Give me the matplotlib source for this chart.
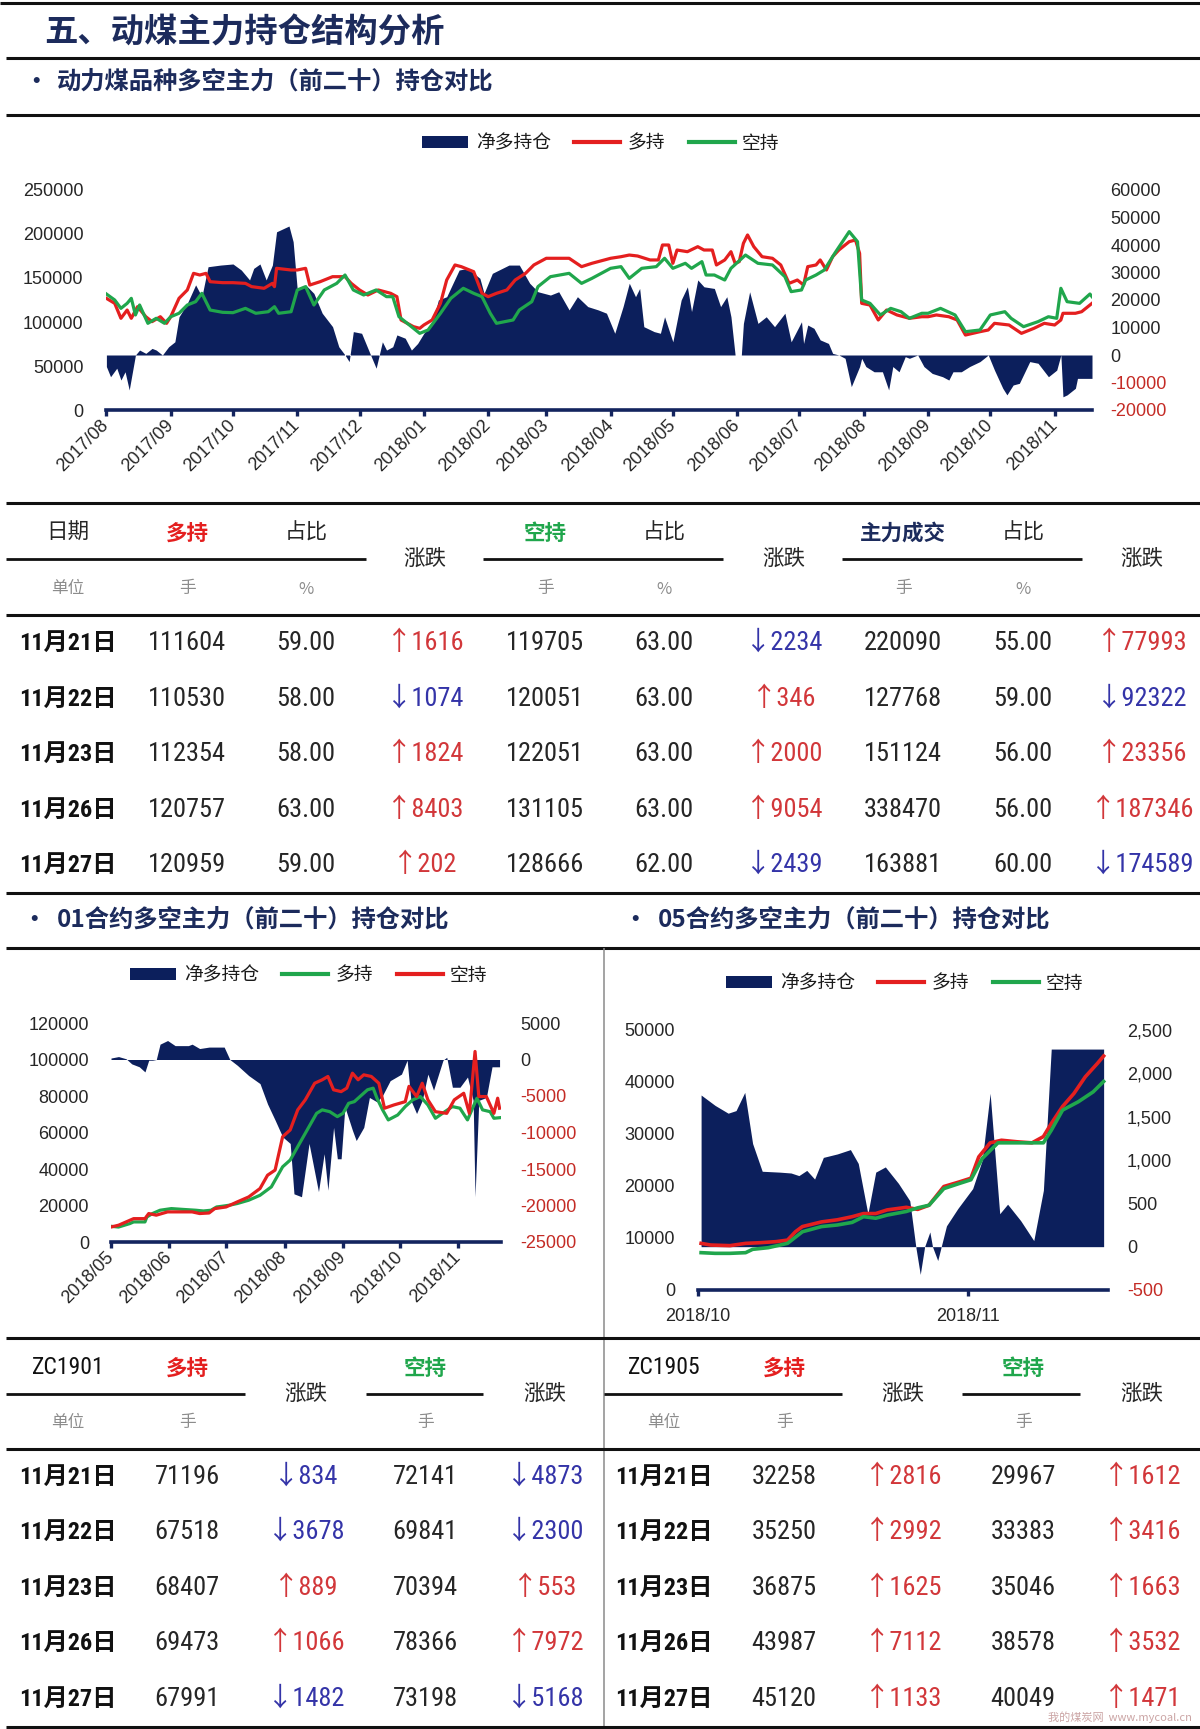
import numpy as np
import pandas as pd
import matplotlib
matplotlib.use('Agg')
import matplotlib.pyplot as plt
import matplotlib.dates as mdates
from matplotlib import font_manager
from matplotlib.font_manager import FontProperties
from matplotlib.lines import Line2D
from matplotlib.patches import Patch

# ====================== DATA ======================
TITLE = '五、动煤主力持仓结构分析'
SUB_MAIN = '动力煤品种多空主力（前二十）持仓对比'
SUB_01 = '01合约多空主力（前二十）持仓对比'
SUB_05 = '05合约多空主力（前二十）持仓对比'
LEGEND_LABELS = ['净多持仓', '多持', '空持']

# main chart: (days since start, value)
MAIN_START = '2017-08-01'
MAIN_END_DAY = 475
MAIN_LONG = [(0,126900),(4,121200),(7,104200),(10,113600),(12,104200),(15,117400),(19,106000),(22,100400),(26,106000),(29,98500),(31,106000),(35,126900),(39,136400),(42,155300),(45,153400),(48,155300),(50,145800),(56,144700),(61,144700),(67,143900),(70,140200),(76,138300),(80,143900),(81,140200),(82,161000),(89,159100),(92,159100),(96,161000),(98,142000),(103,145800),(109,151500),(115,151500),(118,143900),(122,136400),(126,130700),(131,136400),(137,132600),(140,128800),(142,102300),(148,94700),(151,92800),(153,96600),(157,102300),(161,121200),(164,147700),(168,164800),(171,162900),(177,157200),(181,132600),(184,128800),(188,132600),(193,136400),(197,147700),(202,155300),(206,164800),(212,172400),(216,172400),(223,172400),(229,162900),(234,166700),(243,172400),(248,174200),(252,176100),(256,175000),(262,170500),(266,170500),(268,187500),(271,187500),(273,166700),(275,181800),(280,179900),(285,185600),(288,181800),(292,181800),(294,164800),(298,170500),(301,179900),(303,166700),(305,168600),(307,189400),(309,198900),(312,185600),(316,174200),(321,172400),(325,164800),(329,143900),(333,147700),(336,142000),(338,162900),(342,164800),(344,170500),(347,159100),(350,174200),(353,181800),(358,191300),(361,193200),(363,178000),(364,121200),(368,119300),(372,102300),(376,113600),(381,108000),(387,104200),(393,106000),(396,106000),(400,108000),(406,106000),(410,102300),(414,85200),(421,89000),(425,90900),(428,98500),(435,96600),(441,87100),(447,92800),(452,98500),(457,96600),(460,102300),(461,109900),(467,109900),(470,111700),(475,121200)]
MAIN_SHORT = [(0,131800),(4,125000),(7,115500),(10,121200),(12,126900),(14,108000),(16,119300),(20,98500),(24,104200),(28,98500),(31,106000),(35,109900),(39,119300),(43,123100),(46,132600),(50,113600),(56,111000),(61,110600),(67,115500),(72,109900),(78,111700),(81,117400),(83,109900),(89,111700),(92,136400),(96,140200),(100,119300),(105,136400),(111,143900),(115,153400),(119,136400),(124,130700),(130,136400),(135,128800),(138,128800),(141,106000),(146,96600),(151,87100),(155,90900),(161,109900),(166,126900),(172,138300),(177,132600),(181,128800),(185,109900),(188,98500),(196,102300),(199,113600),(205,123100),(208,140200),(214,151500),(223,155300),(229,143900),(234,149600),(243,161000),(248,162900),(252,149600),(258,161000),(265,162900),(269,172400),(273,161000),(279,166700),(282,161000),(287,168600),(289,153400),(293,153400),(298,147700),(301,161000),(308,176100),(314,166700),(321,164800),(327,151500),(330,134500),(335,136400),(337,147700),(342,153400),(346,159100),(351,178000),(358,202700),(362,191300),(364,125000),(368,121200),(373,108000),(378,115500),(383,111700),(387,104200),(393,109900),(396,109900),(402,115500),(409,108000),(414,89000),(421,90900),(426,108000),(433,111700),(436,104200),(442,94700),(449,100400),(454,106000),(458,104200),(460,138300),(463,123100),(469,121200),(474,131800),(475,128800)]
MAIN_NET = [(0,-4200),(2,-7900),(5,-4800),(7,-9100),(9,-6100),(11,-12700),(14,0),(16,1800),(19,600),(22,2400),(24,1800),(27,0),(30,3000),(33,4800),(35,13900),(39,18800),(43,25500),(46,21200),(49,32100),(55,32700),(61,33100),(65,30900),(69,27300),(71,31500),(74,33100),(77,27300),(80,32700),(82,44800),(88,46900),(90,41200),(92,23600),(96,25500),(100,22400),(104,15200),(109,10300),(112,3000),(115,0),(117,-2400),(119,8500),(123,7900),(127,600),(130,-4800),(133,4800),(135,1800),(138,3000),(140,7300),(144,6100),(147,1800),(150,4200),(153,7900),(157,11500),(160,20000),(164,21200),(170,30900),(174,31500),(180,27900),(182,22400),(186,29700),(194,32700),(199,32700),(204,26100),(208,23000),(214,21800),(218,23000),(223,16400),(227,21200),(232,17600),(237,16400),(241,15200),(245,7900),(249,17600),(252,26100),(255,21200),(257,24200),(259,10300),(264,8500),(267,7900),(269,13900),(273,4800),(277,20000),(280,24800),(282,15800),(285,27300),(288,24800),(293,24200),(296,17600),(299,21200),(301,13900),(303,0),(306,0),(307,11500),(310,23000),(314,11500),(318,13900),(322,10300),(327,15200),(330,4800),(335,12100),(336,4200),(338,10900),(341,9700),(344,5500),(348,4200),(350,600),(353,0),(356,-1200),(359,-11500),(363,-4200),(364,-1200),(366,-4200),(370,-6100),(374,-6100),(377,-12700),(379,-4200),(382,-6100),(385,-600),(387,-1200),(391,0),(394,-4200),(398,-6700),(403,-7900),(406,-9100),(408,-6100),(412,-6100),(416,-4200),(421,-2400),(425,0),(428,-5500),(432,-12100),(434,-14500),(437,-10900),(440,-10300),(445,-2400),(449,-3000),(454,-7900),(458,-5500),(460,0),(461,-15200),(463,-14500),(467,-12100),(468,-8500),(475,-8500)]
MAIN_LEFT_TICKS = [0, 50000, 100000, 150000, 200000, 250000]
MAIN_RIGHT_TICKS = [-20000, -10000, 0, 10000, 20000, 30000, 40000, 50000, 60000]

# ZC1901 chart
C01_START = '2018-05-01'
C01_END_DAY = 206.5
C01_LONG = [(0,8600),(4,8200),(10,10100),(12,11000),(18,11000),(19,13700),(22,15600),(26,17400),(32,18300),(39,17800),(45,17400),(49,17000),(53,17400),(56,19200),(59,19600),(63,20200),(67,21100),(73,22900),(79,25600),(85,30200),(91,41200),(95,44900),(98,50400),(101,55900),(105,63200),(109,70500),(112,72400),(116,71400),(120,68700),(123,70500),(126,76000),(129,76900),(132,79700),(136,83400),(139,84300),(141,78800),(144,72400),(147,66900),(152,69600),(156,74200),(160,77900),(164,79700),(168,75100),(172,67800),(177,71400),(181,74200),(185,73300),(189,66900),(194,78800),(197,72400),(201,71400),(203,67800),(206,68100)]
C01_SHORT = [(0,8200),(4,9200),(10,11900),(12,12800),(18,12800),(20,15600),(24,14700),(30,16500),(37,16500),(43,16500),(47,15600),(52,15900),(55,18300),(61,19200),(67,22000),(73,24700),(79,29300),(83,36600),(87,39400),(91,57700),(95,61400),(99,72400),(103,77900),(108,87000),(112,88900),(115,90700),(118,83400),(122,82400),(125,84300),(128,92500),(131,88900),(134,91600),(138,90700),(142,87000),(145,73300),(150,75100),(156,76900),(158,85300),(162,79700),(165,87000),(168,77900),(172,71400),(178,70500),(182,77900),(187,81500),(190,70500),(193,104400),(195,79700),(199,79700),(203,70500),(205,78800),(206,73300)]
C01_NET = [(0,200),(4,400),(8,100),(11,-600),(15,-1000),(18,-1700),(20,-100),(22,-100),(24,0),(26,2100),(30,2600),(34,1900),(41,1900),(43,2100),(47,1500),(52,1700),(57,1700),(60,1700),(63,0),(67,-800),(73,-2200),(79,-3300),(83,-6100),(87,-8300),(91,-10600),(95,-11500),(97,-18400),(101,-18800),(105,-11500),(110,-18100),(113,-12900),(115,-17900),(118,-9300),(120,-13600),(122,-13600),(124,-6500),(128,-9700),(130,-11100),(134,-9300),(137,-5200),(141,-5800),(144,-4900),(148,-2900),(154,-2000),(157,-100),(159,-5600),(162,-7400),(165,-5600),(168,-2000),(171,-4200),(176,-100),(178,300),(181,-3800),(185,-3800),(189,-2400),(192,-5600),(193,-18800),(195,-5600),(199,-5200),(202,-1000),(206,-1000)]
C01_LEFT_TICKS = [0, 20000, 40000, 60000, 80000, 100000, 120000]
C01_RIGHT_TICKS = [-25000, -20000, -15000, -10000, -5000, 0, 5000]

# ZC1905 chart
C05_START = '2018-10-01'
C05_END_DAY = 47
C05_LONG = [(0.4,8970),(1.5,8650),(3.7,8530),(5.5,8970),(7.2,9100),(9.0,9300),(10.3,9600),(11.2,11200),(12.0,12200),(14.2,13100),(16.0,13500),(17.7,14100),(19.0,14700),(20.4,14700),(21.7,15400),(23.9,15900),(25.2,15500),(26.5,16300),(28.2,19900),(30.0,20800),(31.3,21500),(32.2,25600),(33.5,28300),(34.8,28800),(36.6,28500),(38.3,28300),(39.6,29500),(40.5,32000),(41.8,35300),(43.1,37800),(44.4,41000),(45.8,43600),(46.5,45000)]
C05_SHORT = [(0.4,7180),(2.0,7050),(3.7,7050),(5.5,7180),(6.3,7820),(8.1,8140),(10.3,8970),(12.0,11200),(14.2,12200),(16.0,12500),(17.7,13000),(19.0,14100),(20.4,13800),(21.7,14400),(23.9,15100),(25.2,15800),(26.5,16300),(28.2,19500),(30.0,20500),(31.3,21200),(32.6,25300),(34.4,28300),(36.1,28300),(38.3,28300),(39.6,28300),(40.5,30700),(41.8,34600),(43.6,36200),(45.3,38100),(46.5,40100)]
C05_NET = [(0.4,1750),(2.0,1630),(3.5,1540),(4.4,1570),(5.4,1780),(6.3,1190),(7.4,870),(9.4,860),(10.7,850),(11.6,820),(12.5,880),(13.4,780),(14.4,1030),(16.0,1070),(17.5,1120),(18.4,960),(19.5,380),(20.4,860),(21.5,920),(23.0,730),(24.3,530),(25.0,-10),(25.5,-320),(26.0,0),(26.6,170),(26.9,0),(27.5,-160),(28.5,240),(29.8,440),(31.5,670),(32.6,1000),(33.5,1770),(34.6,380),(35.5,490),(37.0,300),(38.5,70),(39.6,650),(40.5,2280),(46.5,2280)]
C05_LEFT_TICKS = [0, 10000, 20000, 30000, 40000, 50000]
C05_RIGHT_TICKS = [-500, 0, 500, 1000, 1500, 2000, 2500]

# tables
T_DATES = ['11月21日', '11月22日', '11月23日', '11月26日', '11月27日']
T1_LONG = [111604, 110530, 112354, 120757, 120959]
T1_LONG_PCT = [59.00, 58.00, 58.00, 63.00, 59.00]
T1_LONG_CHG = [1616, -1074, 1824, 8403, 202]
T1_SHORT = [119705, 120051, 122051, 131105, 128666]
T1_SHORT_PCT = [63.00, 63.00, 63.00, 63.00, 62.00]
T1_SHORT_CHG = [-2234, 346, 2000, 9054, -2439]
T1_VOL = [220090, 127768, 151124, 338470, 163881]
T1_VOL_PCT = [55.00, 59.00, 56.00, 56.00, 60.00]
T1_VOL_CHG = [77993, -92322, 23356, 187346, -174589]

ZC1901_LONG = [71196, 67518, 68407, 69473, 67991]
ZC1901_LONG_CHG = [-834, -3678, 889, 1066, -1482]
ZC1901_SHORT = [72141, 69841, 70394, 78366, 73198]
ZC1901_SHORT_CHG = [-4873, -2300, 553, 7972, -5168]
ZC1905_LONG = [32258, 35250, 36875, 43987, 45120]
ZC1905_LONG_CHG = [2816, 2992, 1625, 7112, 1133]
ZC1905_SHORT = [29967, 33383, 35046, 38578, 40049]
ZC1905_SHORT_CHG = [1612, 3416, 1663, 3532, 1471]

# ====================== STYLE / LAYOUT ======================
W, H = 1200, 1729
NAVY = '#0c1f5c'
AXNAVY = '#13245e'
TNAVY = '#1c2b5c'
RED = '#e41f1f'
GREEN = '#20a64c'
NEG = '#c42b25'
UP = '#d2373a'
DOWN = '#3434a8'
TXT = '#262626'

CJK = 'Noto Sans CJK SC'
plt.rcParams['font.family'] = [CJK, 'DejaVu Sans']

# pick a condensed font for the table numbers if one is installed
_fl = font_manager.fontManager.ttflist
_names = {f.name for f in _fl}
NARROW, NSTRETCH, NUM_SIZE = 'Liberation Sans', 'normal', 16.5
for cand, size in (('Liberation Sans Narrow', 20), ('Arial Narrow', 20),
                   ('Roboto Condensed', 19), ('Open Sans Condensed', 18),
                   ('Noto Sans Condensed', 18), ('DejaVu Sans Condensed', 16.5)):
    if cand in _names:
        NARROW, NUM_SIZE = cand, size
        break
else:
    for fam, size in (('Noto Sans', 18), ('Roboto', 19), ('Open Sans', 18), ('DejaVu Sans', 16.5)):
        if any(f.name == fam and str(f.stretch) in ('condensed', 'semi-condensed', 'extra-condensed')
               for f in _fl):
            NARROW, NSTRETCH, NUM_SIZE = fam, 'condensed', size
            break
NUMF = [NARROW, CJK, 'DejaVu Sans']
DATE_SIZE = NUM_SIZE - 1.5
TICKF = 'Liberation Sans'

fig = plt.figure(figsize=(W / 100, H / 100), dpi=100)
fig.patch.set_facecolor('white')


def fx(x):
    return x / W


def fy(y):
    return 1 - y / H


def hline(x0, x1, y, lw=2.2, color='#111111'):
    fig.add_artist(Line2D([fx(x0), fx(x1)], [fy(y), fy(y)], transform=fig.transFigure,
                          color=color, lw=lw, solid_capstyle='butt'))


def vline(x, y0, y1, lw=1.1, color='#8a8a8a'):
    fig.add_artist(Line2D([fx(x), fx(x)], [fy(y0), fy(y1)], transform=fig.transFigure,
                          color=color, lw=lw, solid_capstyle='butt'))


def put(x, y, s, size, color=TXT, weight='normal', family=None, ha='center', alpha=1.0,
        stretch='normal'):
    fig.text(fx(x), fy(y), s, ha=ha, va='center', fontsize=size, color=color,
             fontweight=weight, family=family or [CJK, 'DejaVu Sans'], alpha=alpha,
             fontstretch=stretch)


def num(x, y, s, color=TXT, size=None, weight='normal'):
    put(x, y, s, size or NUM_SIZE, color=color, weight=weight, family=NUMF, stretch=NSTRETCH)


def legend(cx, cy, long_color, short_color):
    handles = [Patch(facecolor=NAVY, edgecolor='none'),
               Line2D([], [], color=long_color, lw=3),
               Line2D([], [], color=short_color, lw=3)]
    fig.legend(handles, LEGEND_LABELS, loc='center', bbox_to_anchor=(fx(cx), fy(cy)),
               ncol=3, frameon=False, prop=FontProperties(family=[CJK], size=13.5),
               handlelength=2.45, handleheight=0.55, handletextpad=0.4,
               columnspacing=1.25, borderpad=0, borderaxespad=0, labelcolor='#1a1a1a')


def chart(box, start, end_day, long, short, net, lticks, rticks, rlabels,
          long_color, short_color, lpad, rpad, rotate, lw):
    l, t, r, b = box
    base = mdates.date2num(pd.Timestamp(start))
    axA = fig.add_axes([fx(l), fy(b), (r - l) / W, (b - t) / H])
    axL = axA.twinx()
    axA.yaxis.tick_right()
    axL.yaxis.tick_left()

    nd = base + np.array([p[0] for p in net], float)
    nv = np.array([p[1] for p in net], float)
    axA.fill_between(nd, 0, nv, color=NAVY, lw=0)
    for series, col in ((long, long_color), (short, short_color)):
        d = base + np.array([p[0] for p in series], float)
        v = np.array([p[1] for p in series], float)
        axL.plot(d, v, color=col, lw=lw, solid_joinstyle='round')

    axA.set_xlim(base, base + end_day)
    axA.set_ylim(rticks[0], rticks[-1])
    axL.set_ylim(lticks[0], lticks[-1])

    axL.set_yticks(lticks, labels=[str(v) for v in lticks])
    axL.tick_params(axis='y', length=0, pad=lpad, labelsize=13, labelcolor=TXT,
                    labelfontfamily=TICKF)
    axA.set_yticks(rticks, labels=rlabels)
    axA.tick_params(axis='y', length=0, pad=rpad, labelsize=13, labelfontfamily=TICKF)
    for lab, v in zip(axA.get_yticklabels(), rticks):
        lab.set_color(NEG if v < 0 else TXT)

    for s in axL.spines.values():
        s.set_visible(False)
    for k, s in axA.spines.items():
        if k != 'bottom':
            s.set_visible(False)
    axA.spines['bottom'].set_color(AXNAVY)
    axA.spines['bottom'].set_linewidth(2.6)
    axA.patch.set_visible(False)

    axA.xaxis.set_major_locator(mdates.MonthLocator())
    axA.xaxis.set_major_formatter(mdates.DateFormatter('%Y/%m'))
    axA.tick_params(axis='x', direction='out', length=4, width=2.4, color=AXNAVY,
                    labelsize=13, labelcolor=TXT, labelfontfamily=TICKF,
                    pad=5 if rotate else 9)
    if rotate:
        for lab in axA.get_xticklabels():
            lab.set_rotation(45)
            lab.set_ha('right')
            lab.set_va('center')
            lab.set_rotation_mode('anchor')
    return axA, axL


# ---------- header ----------
hline(0, 1200, 3)
put(44, 33, TITLE, 24, color=TNAVY, weight='bold', ha='left')
hline(6, 1200, 58)
put(36, 82, '•', 17, color=TNAVY, weight='bold')
put(57, 82, SUB_MAIN, 17.5, color=TNAVY, weight='bold', ha='left')
hline(6, 1200, 115)

# ---------- main chart ----------
legend(601, 143, RED, GREEN)
chart((106.4, 190, 1092, 410), MAIN_START, MAIN_END_DAY, MAIN_LONG, MAIN_SHORT, MAIN_NET,
      MAIN_LEFT_TICKS, MAIN_RIGHT_TICKS, [str(v) for v in MAIN_RIGHT_TICKS],
      RED, GREEN, 16.5, 13.3, True, 2.3)
hline(6, 1200, 503)

# ---------- table 1 ----------
COLS = [68, 187, 306, 425, 545, 664, 784, 903, 1023, 1142]
HDR = 15.5
UNIT = 12
put(COLS[0], 533, '日期', HDR)
put(COLS[1], 533, '多持', HDR, color=RED, weight='bold')
put(COLS[2], 533, '占比', HDR)
put(COLS[3], 560, '涨跌', HDR)
put(COLS[4], 533, '空持', HDR, color=GREEN, weight='bold')
put(COLS[5], 533, '占比', HDR)
put(COLS[6], 560, '涨跌', HDR)
put(COLS[7], 533, '主力成交', HDR, color=TNAVY, weight='bold')
put(COLS[8], 533, '占比', HDR)
put(COLS[9], 560, '涨跌', HDR)
hline(6, 366, 559, lw=2.0)
hline(483, 723, 559, lw=2.0)
hline(842, 1082, 559, lw=2.0)
for c, s in ((0, '单位'), (1, '手'), (2, '%'), (4, '手'), (5, '%'), (7, '手'), (8, '%')):
    put(COLS[c], 589, s, UNIT, color='#8c8c8c')
hline(6, 1200, 615)


def chg(v):
    return ('↑' if v > 0 else '↓') + str(abs(v)), (UP if v > 0 else DOWN)


ROWS1 = [643, 699, 754, 810, 865]
for i, y in enumerate(ROWS1):
    num(COLS[0], y, T_DATES[i], color='#111111', size=DATE_SIZE, weight='bold')
    num(COLS[1], y, str(T1_LONG[i]))
    num(COLS[2], y, f'{T1_LONG_PCT[i]:.2f}')
    s, col = chg(T1_LONG_CHG[i])
    num(COLS[3], y, s, color=col)
    num(COLS[4], y, str(T1_SHORT[i]))
    num(COLS[5], y, f'{T1_SHORT_PCT[i]:.2f}')
    s, col = chg(T1_SHORT_CHG[i])
    num(COLS[6], y, s, color=col)
    num(COLS[7], y, str(T1_VOL[i]))
    num(COLS[8], y, f'{T1_VOL_PCT[i]:.2f}')
    s, col = chg(T1_VOL_CHG[i])
    num(COLS[9], y, s, color=col)
hline(6, 1200, 893)

# ---------- sub titles ----------
put(34, 920, '•', 17, color=TNAVY, weight='bold')
put(57, 920, SUB_01, 17.5, color=TNAVY, weight='bold', ha='left')
put(635, 920, '•', 17, color=TNAVY, weight='bold')
put(658, 920, SUB_05, 17.5, color=TNAVY, weight='bold', ha='left')
hline(6, 1200, 948)
vline(604, 948, 1729)

# ---------- ZC1901 chart ----------
legend(309, 975, GREEN, RED)
chart((111, 1023, 500.5, 1242), C01_START, C01_END_DAY, C01_LONG, C01_SHORT, C01_NET,
      C01_LEFT_TICKS, C01_RIGHT_TICKS, [str(v) for v in C01_RIGHT_TICKS],
      GREEN, RED, 15.8, 14, True, 2.3)

# ---------- ZC1905 chart ----------
legend(905, 983, RED, GREEN)
chart((697.6, 1030, 1108, 1290), C05_START, C05_END_DAY, C05_LONG, C05_SHORT, C05_NET,
      C05_LEFT_TICKS, C05_RIGHT_TICKS, [f'{v:,}' for v in C05_RIGHT_TICKS],
      RED, GREEN, 16.3, 13.7, False, 2.6)
hline(6, 1200, 1338)

# ---------- bottom tables ----------
num(COLS[0], 1368, 'ZC1901', color='#111111', size=NUM_SIZE - 2)
put(COLS[1], 1368, '多持', HDR, color=RED, weight='bold')
put(COLS[2], 1395, '涨跌', HDR)
put(COLS[3], 1368, '空持', HDR, color=GREEN, weight='bold')
put(COLS[4], 1395, '涨跌', HDR)
num(COLS[5], 1368, 'ZC1905', color='#111111', size=NUM_SIZE - 2)
put(COLS[6], 1368, '多持', HDR, color=RED, weight='bold')
put(COLS[7], 1395, '涨跌', HDR)
put(COLS[8], 1368, '空持', HDR, color=GREEN, weight='bold')
put(COLS[9], 1395, '涨跌', HDR)
hline(6, 245, 1394, lw=2.0)
hline(366, 483, 1394, lw=2.0)
hline(604, 842, 1394, lw=2.0)
hline(962, 1080, 1394, lw=2.0)
for c, s in ((0, '单位'), (1, '手'), (3, '手'), (5, '单位'), (6, '手'), (8, '手')):
    put(COLS[c], 1423, s, UNIT, color='#8c8c8c')
hline(6, 1200, 1449)

ROWS2 = [1477, 1532, 1588, 1643, 1699]
for i, y in enumerate(ROWS2):
    for off, lng, lchg, sht, schg in ((0, ZC1901_LONG, ZC1901_LONG_CHG, ZC1901_SHORT, ZC1901_SHORT_CHG),
                                      (5, ZC1905_LONG, ZC1905_LONG_CHG, ZC1905_SHORT, ZC1905_SHORT_CHG)):
        num(COLS[off], y, T_DATES[i], color='#111111', size=DATE_SIZE, weight='bold')
        num(COLS[off + 1], y, str(lng[i]))
        s, col = chg(lchg[i])
        num(COLS[off + 2], y, s, color=col)
        num(COLS[off + 3], y, str(sht[i]))
        s, col = chg(schg[i])
        num(COLS[off + 4], y, s, color=col)
hline(6, 1200, 1727)

# watermark (kept small, below the last row so it hides nothing)
put(1192, 1717, '我的煤炭网  www.mycoal.cn', 8, color='#a05a5a', alpha=0.55, ha='right')

fig.savefig('out.png', dpi=100, facecolor='white')
